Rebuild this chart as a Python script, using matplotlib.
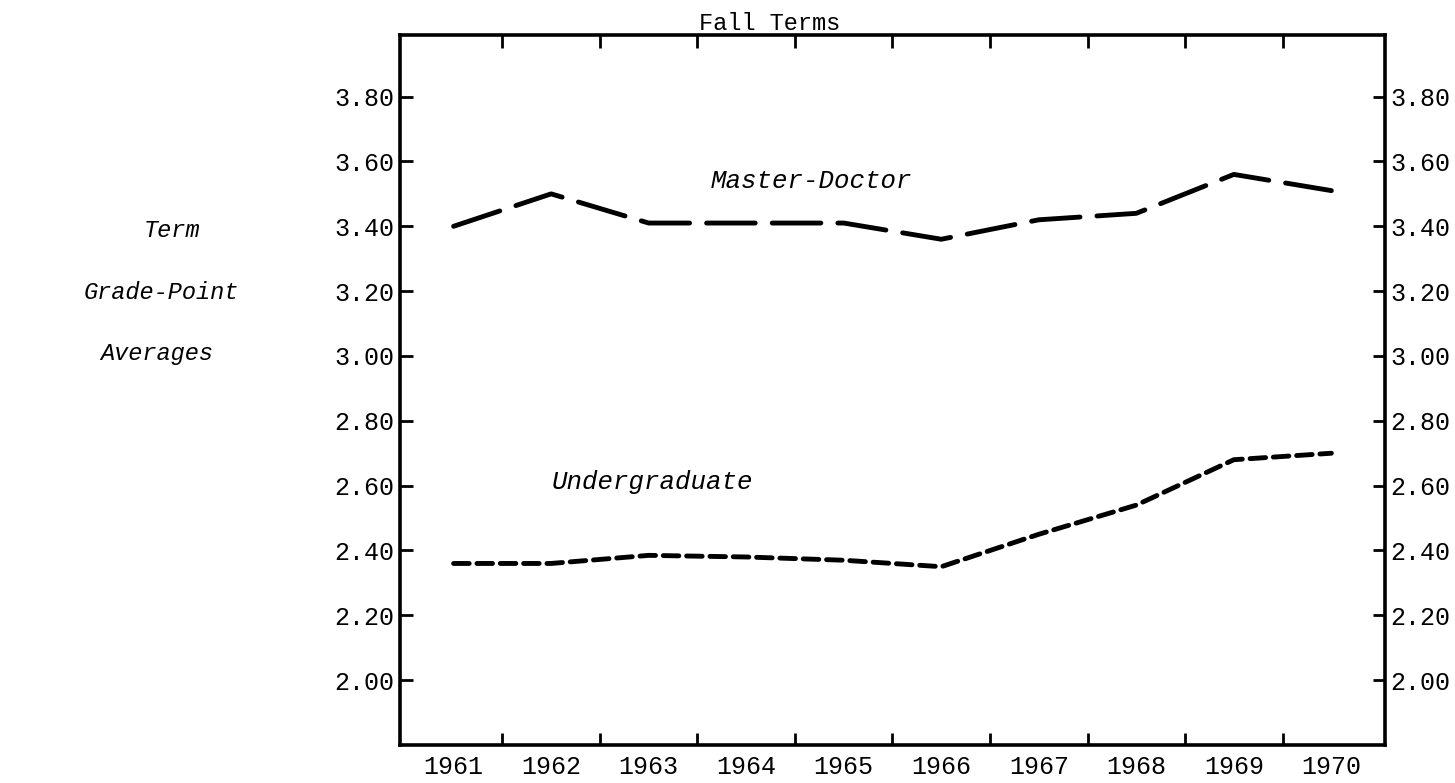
import numpy as np
import matplotlib.pyplot as plt

# data
years = [1961, 1962, 1963, 1964, 1965, 1966, 1967, 1968, 1969, 1970]
master_doctor = [3.40, 3.50, 3.41, 3.41, 3.41, 3.36, 3.42, 3.44, 3.56, 3.51]
undergraduate = [2.36, 2.36, 2.385, 2.38, 2.37, 2.35, 2.45, 2.54, 2.68, 2.70]
y_ticks = [2.00, 2.20, 2.40, 2.60, 2.80, 3.00, 3.20, 3.40, 3.60, 3.80]

mono = 'Liberation Mono'

fig = plt.figure(figsize=(14.55, 7.83), dpi=100)
ax = fig.add_axes([0.2749, 0.0485, 0.677, 0.9068])

ax.plot(years, master_doctor, color='black', lw=3.5, dashes=(10, 3.5),
        solid_capstyle='round', dash_capstyle='round')
ax.plot(years, undergraduate, color='black', lw=3.5, dashes=(3.2, 1.6),
        dash_capstyle='round')

ax.text(1963.64, 3.54, 'Master-Doctor', family=mono, style='italic',
        fontsize=18.5, va='center')
ax.text(1962.0, 2.61, 'Undergraduate', family=mono, style='italic',
        fontsize=18.5, va='center')

ax.set_xlim(1960.45, 1970.55)
ax.set_ylim(1.80, 3.99)

# boundaries between years carry the tick marks, years carry the labels
ax.set_xticks(np.arange(1961.5, 1970, 1.0))
ax.set_xticklabels([])
ax.set_xticks(years, minor=True)
ax.set_xticklabels([str(y) for y in years], minor=True, family=mono, fontsize=18)
ax.tick_params(axis='x', which='minor', length=0, pad=7)
ax.tick_params(axis='x', which='major', direction='in', length=9, width=2,
               top=True, bottom=True)

ax.set_yticks(y_ticks)
ax.set_yticklabels(['%.2f' % v for v in y_ticks], family=mono, fontsize=18)
ax.tick_params(axis='y', direction='in', length=9, width=2, left=True, right=True,
               labelleft=True, labelright=True, pad=4)

for s in ax.spines.values():
    s.set_linewidth(2.6)

fig.text(0.529, 0.985, 'Fall Terms', family=mono, fontsize=17, ha='center', va='top')
fig.text(0.118, 0.706, 'Term', family=mono, style='italic', fontsize=17, ha='center', va='center')
fig.text(0.111, 0.627, 'Grade-Point', family=mono, style='italic', fontsize=17, ha='center', va='center')
fig.text(0.108, 0.548, 'Averages', family=mono, style='italic', fontsize=17, ha='center', va='center')

fig.savefig('out.png', dpi=100)
